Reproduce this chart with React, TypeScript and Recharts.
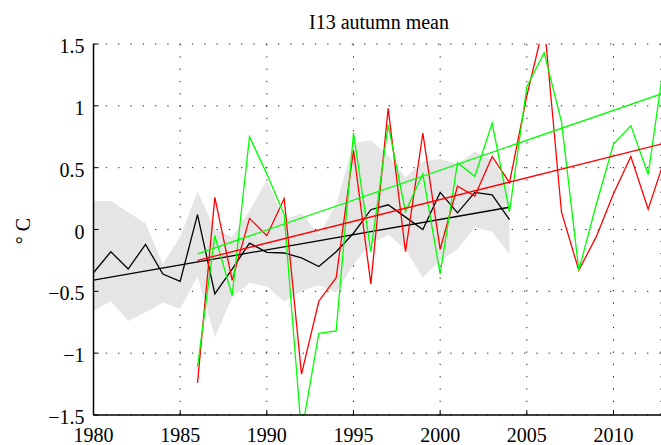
import React from "react"
import { ComposedChart, Line, Area, XAxis, YAxis, CartesianGrid } from "recharts"

const years = [
  1980, 1981, 1982, 1983, 1984, 1985, 1986, 1987, 1988, 1989, 1990, 1991,
  1992, 1993, 1994, 1995, 1996, 1997, 1998, 1999, 2000, 2001, 2002, 2003,
  2004, 2005, 2006, 2007, 2008, 2009, 2010, 2011, 2012, 2013,
]

// observed mean, 1980-2004
const obsMean = [
  -0.35, -0.18, -0.32, -0.12, -0.36, -0.42, 0.12, -0.52, -0.32, -0.11, -0.185,
  -0.19, -0.23, -0.3, -0.18, -0.03, 0.16, 0.2, 0.1, 0.0, 0.3, 0.135, 0.3, 0.28, 0.08,
]

// spread band, 1980-2004
const bandLow = [
  -0.66, -0.58, -0.74, -0.67, -0.59, -0.64, -0.38, -0.87, -0.55, -0.43, -0.46,
  -0.58, -0.5, -0.45, -0.51, -0.28, -0.12, -0.04, -0.16, -0.39, -0.25, -0.16, 0.02, -0.02, -0.2,
]
const bandHigh = [
  0.23, 0.23, 0.14, 0.05, -0.28, -0.06, 0.31, 0.0, -0.06, 0.15, 0.4, 0.08, 0.13,
  -0.04, 0.2, 0.7, 0.72, 0.6, 0.42, 0.55, 0.57, 0.53, 0.63, 0.56, 0.35,
]

// red and green series, 1986-2013
const redYears = [
  1986, 1987, 1988, 1989, 1990, 1991, 1992, 1993, 1994, 1995, 1996, 1997, 1998, 1999,
  2000, 2001, 2002, 2003, 2004, 2005, 2006, 2007, 2008, 2009, 2010, 2011, 2012, 2013,
]
const redSeries = [
  -1.24, 0.26, -0.41, 0.09, -0.05, 0.25, -1.17, -0.58, -0.39, 0.64, -0.44, 0.98,
  -0.18, 0.78, -0.16, 0.35, 0.27, 0.59, 0.38, 1.08, 1.67, 0.14, -0.33, -0.06, 0.29,
  0.59, 0.165, 0.59,
]
const greenSeries = [
  -1.11, -0.05, -0.535, 0.75, 0.45, 0.12, -1.65, -0.84, -0.82, 0.78, -0.18, 0.845,
  0.145, 0.45, -0.36, 0.54, 0.43, 0.86, 0.145, 1.155, 1.43, 0.87, -0.33, 0.2, 0.69,
  0.84, 0.445, 1.43,
]

// trend line end points
const blackTrend = { 1980: -0.41, 2004: 0.18 }
const redTrend = { 1986: -0.25, 2013: 0.7 }
const greenTrend = { 1986: -0.197, 2013: 1.108 }

const xTicks = [1980, 1985, 1990, 1995, 2000, 2005, 2010]
const yTicks = [-1.5, -1, -0.5, 0, 0.5, 1, 1.5]

const data = years.map((year, i) => {
  const j = redYears.indexOf(year)
  return {
    year,
    band: i < bandLow.length ? [bandLow[i], bandHigh[i]] : null,
    black: i < obsMean.length ? obsMean[i] : null,
    red: j >= 0 ? redSeries[j] : null,
    green: j >= 0 ? greenSeries[j] : null,
    blackTrend: blackTrend[year] ?? null,
    redTrend: redTrend[year] ?? null,
    greenTrend: greenTrend[year] ?? null,
  }
})

const font = "'Liberation Serif', 'Times New Roman', serif"

function XTick({ x, y, payload }: any) {
  return (
    <text x={x} y={y} dy={14.2} textAnchor="middle" fontSize={20} fontFamily={font} fill="#000">
      {payload.value}
    </text>
  )
}

function YTick({ x, y, payload }: any) {
  return (
    <text x={x} y={y} dy={9} textAnchor="end" fontSize={20} fontFamily={font} fill="#000">
      {String(payload.value).replace("-", "\u2212")}
    </text>
  )
}

export default function App() {
  return (
    <div style={{ position: "absolute", left: 0, top: 0, width: 661, height: 445, background: "#fff", fontFamily: font }}>
      <ComposedChart width={661} height={445} data={data} margin={{ top: 44, right: 0, bottom: 0, left: 0.5 }}>
        <CartesianGrid stroke="#222" strokeDasharray="1.3 11" />
        <XAxis
          dataKey="year"
          type="number"
          domain={[1980, 2012.74]}
          ticks={xTicks}
          interval={0}
          allowDataOverflow
          height={30}
          tickSize={-5}
          tickMargin={17.5}
          tick={<XTick />}
          tickLine={{ stroke: "#000" }}
          axisLine={{ stroke: "#000", strokeWidth: 1.5 }}
        />
        <XAxis
          xAxisId="top"
          orientation="top"
          dataKey="year"
          type="number"
          domain={[1980, 2012.74]}
          ticks={xTicks}
          interval={0}
          allowDataOverflow
          height={0}
          tickSize={-5}
          tick={false}
          tickLine={{ stroke: "#000" }}
          axisLine={{ stroke: "#000", strokeWidth: 1.5 }}
        />
        <YAxis
          type="number"
          domain={[-1.5, 1.5]}
          ticks={yTicks}
          interval={0}
          allowDataOverflow
          width={93}
          tickSize={-5}
          tickMargin={14}
          tick={<YTick />}
          tickLine={{ stroke: "#000" }}
          axisLine={{ stroke: "#000", strokeWidth: 1.5 }}
        />
        <Area dataKey="band" stroke="none" fill="#e5e5e5" fillOpacity={1} isAnimationActive={false} activeDot={false} />
        <Line dataKey="black" stroke="#000" strokeWidth={1.3} dot={false} activeDot={false} isAnimationActive={false} />
        <Line dataKey="blackTrend" stroke="#000" strokeWidth={1.3} dot={false} activeDot={false} connectNulls isAnimationActive={false} />
        <Line dataKey="red" stroke="#ff0000" strokeWidth={1.3} dot={false} activeDot={false} isAnimationActive={false} />
        <Line dataKey="green" stroke="#00ff00" strokeWidth={1.3} dot={false} activeDot={false} isAnimationActive={false} />
        <Line dataKey="redTrend" stroke="#ff0000" strokeWidth={1.3} dot={false} activeDot={false} connectNulls isAnimationActive={false} />
        <Line dataKey="greenTrend" stroke="#00ff00" strokeWidth={1.3} dot={false} activeDot={false} connectNulls isAnimationActive={false} />
      </ComposedChart>
      <svg width={661} height={445} style={{ position: "absolute", left: 0, top: 0, pointerEvents: "none" }}>
        <text x={379} y={28.5} textAnchor="middle" fontSize={20} fontFamily={font} fill="#000">
          I13 autumn mean
        </text>
        <text transform="translate(29.5, 231) rotate(-90)" textAnchor="middle" fontSize={20} fontFamily={font} fill="#000">
          ° C
        </text>
      </svg>
    </div>
  )
}
